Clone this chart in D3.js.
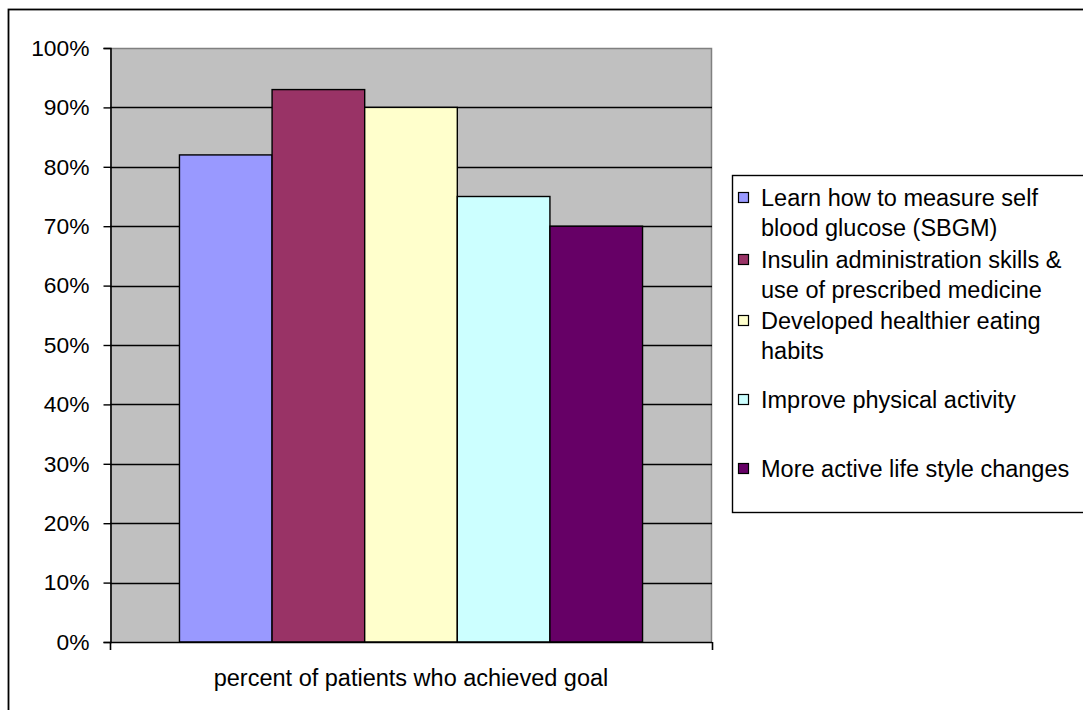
<!DOCTYPE html>
<html>
<head>
<meta charset="utf-8">
<script src="https://cdn.jsdelivr.net/npm/d3@7"></script>
<style>
  html, body { margin: 0; padding: 0; background: #fff; }
  svg { display: block; font-family: "Liberation Sans", Arial, sans-serif; }
</style>
</head>
<body>
<svg id="chart" width="1083" height="710"></svg>
<script>
// ---- data ----
const categories = ["percent of patients who achieved goal"];
const seriesNames = [
  "Learn how to measure self blood glucose (SBGM)",
  "Insulin administration skills & use of prescribed medicine",
  "Developed healthier eating habits",
  "Improve physical activity",
  "More active life style changes"
];
const seriesValues = [0.82, 0.93, 0.90, 0.75, 0.70];
const seriesColors = ["#9999FF", "#993366", "#FFFFCC", "#CCFFFF", "#660066"];
const legendLines = [
  ["Learn how to measure self", "blood glucose (SBGM)"],
  ["Insulin administration skills &", "use of prescribed medicine"],
  ["Developed healthier eating", "habits"],
  ["Improve physical activity"],
  ["More active life style changes"]
];
const yTicks = [0, 0.1, 0.2, 0.3, 0.4, 0.5, 0.6, 0.7, 0.8, 0.9, 1.0];

// ---- layout ----
const svg = d3.select("#chart");
const plot = { left: 110, right: 712, top: 48, bottom: 642 };
const FS = 22.8;
const FS_TEXT = 23.5;

// outer chart border (only left/top visible)
svg.append("rect")
  .attr("x", 8.5).attr("y", 9.5)
  .attr("width", 1200).attr("height", 800)
  .attr("fill", "#fff").attr("stroke", "#000").attr("stroke-width", 1.8);

const y = d3.scaleLinear().domain([0, 1]).range([plot.bottom, plot.top]);
const x0 = d3.scaleBand().domain(categories).range([plot.left, plot.right])
  .paddingInner(0).paddingOuter(0.15);
const x1 = d3.scaleBand().domain(seriesNames).range([0, x0.bandwidth()]).padding(0);

// plot background
svg.append("rect")
  .attr("x", plot.left).attr("y", plot.top)
  .attr("width", plot.right - plot.left).attr("height", plot.bottom - plot.top)
  .attr("fill", "#C0C0C0");
// gray border top/right
svg.append("path")
  .attr("d", `M${plot.left},${plot.top + 0.5}H${plot.right - 0.5}V${plot.bottom}`)
  .attr("fill", "none").attr("stroke", "#808080").attr("stroke-width", 1.5);

// gridlines
svg.append("g").selectAll("line")
  .data(yTicks.filter(d => d > 0 && d < 1))
  .join("line")
  .attr("x1", plot.left).attr("x2", plot.right)
  .attr("y1", d => Math.round(y(d)) + 0.5).attr("y2", d => Math.round(y(d)) + 0.5)
  .attr("stroke", "#000").attr("stroke-width", 1.4);

// bars
const g = svg.append("g");
categories.forEach(cat => {
  g.selectAll("rect.bar")
    .data(seriesNames.map((s, i) => ({ s, v: seriesValues[i], c: seriesColors[i] })))
    .join("rect")
    .attr("class", "bar")
    .attr("x", d => x0(cat) + x1(d.s))
    .attr("y", d => y(d.v))
    .attr("width", x1.bandwidth())
    .attr("height", d => y(0) - y(d.v))
    .attr("fill", d => d.c)
    .attr("stroke", "#000").attr("stroke-width", 1.4);
});

// y axis
const yAxis = d3.axisLeft(y).tickValues(yTicks).tickFormat(d3.format(".0%"))
  .tickSize(7).tickPadding(14);
const yg = svg.append("g").attr("transform", `translate(${plot.left + 0.5},0)`).call(yAxis);
yg.select(".domain").attr("stroke", "#000").attr("stroke-width", 1.6);
yg.selectAll(".tick line").attr("stroke", "#000").attr("stroke-width", 1.4);
yg.selectAll(".tick text").attr("font-size", FS).attr("fill", "#000")
  .attr("font-family", "Liberation Sans, Arial, sans-serif");

// x axis: line plus boundary ticks
const xAxisG = svg.append("g");
xAxisG.append("line")
  .attr("x1", plot.left).attr("x2", plot.right)
  .attr("y1", plot.bottom + 0.5).attr("y2", plot.bottom + 0.5)
  .attr("stroke", "#000").attr("stroke-width", 1.6);
xAxisG.selectAll("line.bt")
  .data([plot.left, plot.right])
  .join("line").attr("class", "bt")
  .attr("x1", d => d + 0.5).attr("x2", d => d + 0.5)
  .attr("y1", plot.bottom).attr("y2", plot.bottom + 8)
  .attr("stroke", "#000").attr("stroke-width", 1.6);
xAxisG.selectAll("text")
  .data(categories)
  .join("text")
  .attr("x", d => x0(d) + x0.bandwidth() / 2)
  .attr("y", 678)
  .attr("dy", "0.35em")
  .attr("text-anchor", "middle")
  .attr("font-size", FS_TEXT).attr("fill", "#000")
  .text(d => d);

// legend
const legend = svg.append("g");
legend.append("rect")
  .attr("x", 732.5).attr("y", 175.5)
  .attr("width", 500).attr("height", 337)
  .attr("fill", "#fff").attr("stroke", "#000").attr("stroke-width", 1.4);
const entryY = [198, 260, 321, 400, 469];
const lineH = 30;
seriesNames.forEach((s, i) => {
  legend.append("rect")
    .attr("x", 738.5).attr("y", entryY[i] - 5.5)
    .attr("width", 10).attr("height", 10)
    .attr("fill", seriesColors[i]).attr("stroke", "#000").attr("stroke-width", 1.2);
  legendLines[i].forEach((ln, j) => {
    legend.append("text")
      .attr("x", 761).attr("y", entryY[i] + j * lineH)
      .attr("dy", "0.35em")
      .attr("font-size", FS_TEXT).attr("fill", "#000")
      .text(ln);
  });
});
</script>
</body>
</html>
